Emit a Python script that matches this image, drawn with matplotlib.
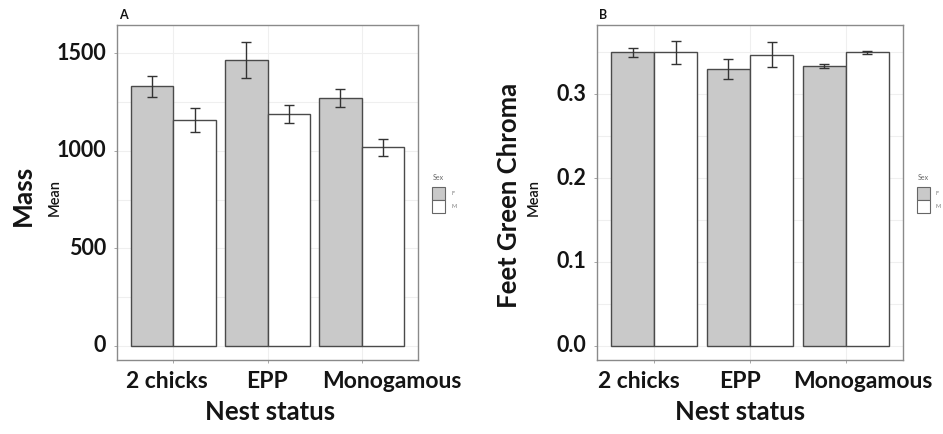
import matplotlib
matplotlib.use("Agg")
import matplotlib.pyplot as plt
from matplotlib.patches import Rectangle
import numpy as np

categories = ["2 chicks", "EPP", "Monogamous"]
sexes = ["F", "M"]

mass_F = [1330, 1465, 1270]
mass_F_err = [52, 94, 45]
mass_M = [1157, 1188, 1018]
mass_M_err = [60, 45, 43]

chroma_F = [0.350, 0.330, 0.334]
chroma_F_err = [0.005, 0.012, 0.0025]
chroma_M = [0.350, 0.347, 0.350]
chroma_M_err = [0.0135, 0.015, 0.0015]

mass_ticks = [0, 500, 1000, 1500]
mass_ticklabels = ["0", "500", "1000", "1500"]
chroma_ticks = [0.0, 0.1, 0.2, 0.3]
chroma_ticklabels = ["0.0", "0.1", "0.2", "0.3"]

FONT = "Lato"
TXT = "#141414"
FILL_F = "#c9c9c9"
FILL_M = "#ffffff"
EDGE = "#4a4a4a"

fig = plt.figure(figsize=(9.43, 4.34), dpi=100)

def panel(rect, fv, fe, mv, me, ticks, tlabels, ylim, minor, ylab, ylab_size, tag,
          ylab_x, mean_x, label_offsets, nest_x, legend_x):
    ax = fig.add_axes(rect)
    x = np.arange(1, len(categories) + 1)
    w = 0.45
    ax.bar(x - w / 2, fv, width=w, color=FILL_F, edgecolor=EDGE, linewidth=1.0, zorder=3)
    ax.bar(x + w / 2, mv, width=w, color=FILL_M, edgecolor=EDGE, linewidth=1.0, zorder=3)
    ax.errorbar(x - w / 2, fv, yerr=fe, fmt="none", ecolor="#333333", elinewidth=1.0,
                capsize=3.3, capthick=1.0, zorder=4)
    ax.errorbar(x + w / 2, mv, yerr=me, fmt="none", ecolor="#333333", elinewidth=1.0,
                capsize=3.3, capthick=1.0, zorder=4)
    ax.set_xlim(0.4, 3.6)
    ax.set_ylim(*ylim)
    ax.set_xticks(x)
    ax.set_xticklabels([])
    ax.set_yticks(ticks)
    ax.set_yticklabels([])
    ax.set_yticks(minor, minor=True)
    ax.grid(True, which="both", color="#efefef", linewidth=0.8, zorder=0)
    ax.tick_params(axis="both", which="major", length=2.5, color="#999999", width=0.6)
    ax.tick_params(axis="y", which="minor", length=0)
    for s in ax.spines.values():
        s.set_color("#8a8a8a")
        s.set_linewidth(1.0)
    for t, lab in zip(ticks, tlabels):
        ax.annotate(lab, xy=(0, t), xycoords=("axes fraction", "data"),
                    xytext=(-11, 0), textcoords="offset pixels",
                    ha="right", va="center", fontsize=15.5, fontweight="bold",
                    family=FONT, color=TXT)
    for xi, lab, off in zip(x, categories, label_offsets):
        ax.annotate(lab, xy=(xi, 0), xycoords=("data", "axes fraction"),
                    xytext=(off, -21), textcoords="offset pixels",
                    ha="center", va="center", fontsize=16.5, fontweight="bold",
                    family=FONT, color=TXT)
    fig.text(nest_x, 1 - 412 / 434, "Nest status", ha="center", va="center",
             fontsize=18.5, fontweight="bold", family=FONT, color=TXT)
    fig.text(ylab_x, 1 - 195 / 434, ylab, rotation=90, ha="center", va="center",
             fontsize=ylab_size, fontweight="bold", family=FONT, color=TXT)
    fig.text(mean_x, 1 - 197 / 434, "Mean", rotation=90, ha="center", va="center",
             fontsize=10.5, fontweight="semibold", family=FONT, color=TXT)
    fig.text(rect[0] + 2 / 943, 1 - 15 / 434, tag, ha="left", va="center",
             fontsize=9, fontweight="bold", family=FONT, color=TXT)
    lx = legend_x / 943
    fig.text(lx + 1 / 943, 1 - 178 / 434, "Sex", fontsize=5, color="#666666",
             ha="left", va="center", family=FONT)
    kw = 13 / 943
    kh = 13 / 434
    for i, (lab, col) in enumerate(zip(sexes, [FILL_F, FILL_M])):
        y0 = 1 - (187 + 13 * (i + 1)) / 434
        fig.add_artist(Rectangle((lx, y0), kw, kh, transform=fig.transFigure,
                                 facecolor=col, edgecolor="#666666", linewidth=0.8))
        fig.text(lx + kw + 6 / 943, y0 + kh / 2, lab, fontsize=4, color="#777777",
                 ha="left", va="center", family=FONT)
    return ax

axA = panel([117 / 943, 1 - 360 / 434, 301 / 943, 335 / 434],
            mass_F, mass_F_err, mass_M, mass_M_err,
            mass_ticks, mass_ticklabels, (-73, 1645), [250, 750, 1250],
            "Mass", 19, "A", 23 / 943, 55 / 943, [-7, 0, 30], 270 / 943, 432)

axB = panel([597 / 943, 1 - 360 / 434, 306 / 943, 335 / 434],
            chroma_F, chroma_F_err, chroma_M, chroma_M_err,
            chroma_ticks, chroma_ticklabels, (-0.0173, 0.3827), [0.05, 0.15, 0.25, 0.35],
            "Feet Green Chroma", 18.5, "B", 509 / 943, 534 / 943, [-16, -10, 17], 740 / 943, 917)

fig.savefig("out.png", dpi=100)
